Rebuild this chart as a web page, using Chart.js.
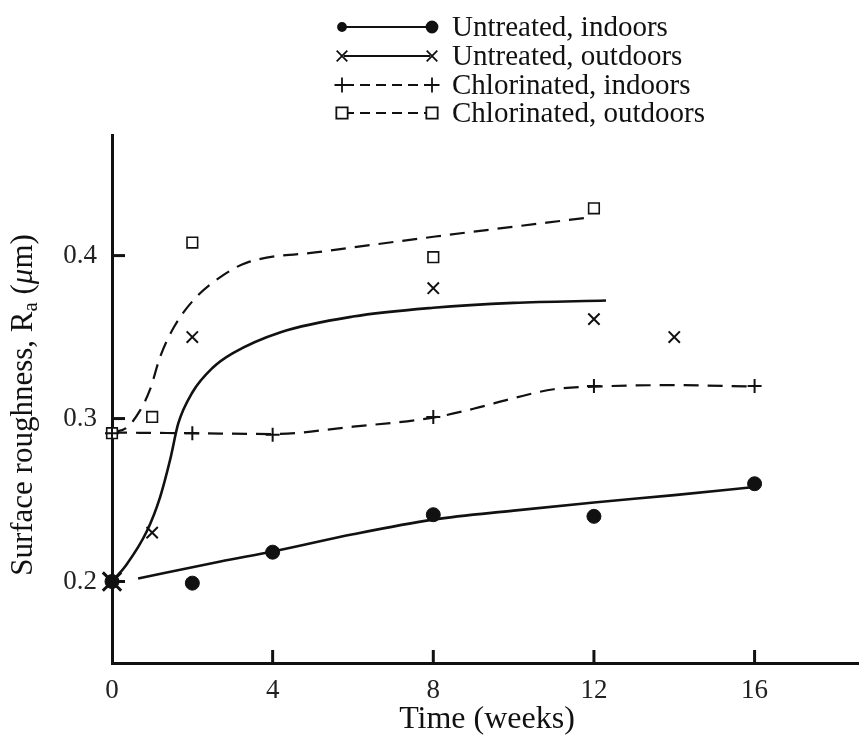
<!DOCTYPE html>
<html lang="en">
<head>
    <meta charset="UTF-8">
    <title>Surface roughness vs time</title>
    <script src="https://cdn.jsdelivr.net/npm/chart.js@4"></script>
    <style>
        html, body { margin: 0; padding: 0; background: #fff; }
    </style>
</head>
<body>
    <canvas id="myChart" width="859" height="743"></canvas>

    <script>
        // measured points
        var uiWeeks = [0, 2, 4, 8, 12, 16];
        var uiValues = [0.200, 0.199, 0.218, 0.241, 0.240, 0.260];

        var uoWeeks = [0, 1, 2, 8, 12, 14];
        var uoValues = [0.200, 0.230, 0.350, 0.380, 0.361, 0.350];

        var ciWeeks = [0, 2, 4, 8, 12, 16];
        var ciValues = [0.291, 0.291, 0.290, 0.301, 0.320, 0.320];

        var coWeeks = [0, 1, 2, 8, 12];
        var coValues = [0.291, 0.301, 0.408, 0.399, 0.429];

        // hand drawn curves
        var uiFitWeeks = [0.65, 2.7, 4, 6, 8, 10, 12, 14, 16];
        var uiFitValues = [0.2018, 0.2123, 0.2184, 0.229, 0.238, 0.2435, 0.2485, 0.253, 0.258];

        var uoFitWeeks = [0, 0.35, 0.87, 1.2, 1.45, 1.65, 2.0, 2.5, 3, 4.2, 6, 8, 10, 12.3];
        var uoFitValues = [0.2, 0.21, 0.231, 0.252, 0.275, 0.297, 0.316, 0.331, 0.340, 0.353, 0.3626, 0.368, 0.371, 0.3724];

        var ciFitWeeks = [0, 2, 4, 6, 8, 9, 10, 11, 12, 14, 16];
        var ciFitValues = [0.2914, 0.291, 0.2905, 0.295, 0.3006, 0.306, 0.3125, 0.318, 0.3196, 0.3205, 0.3196];

        var coFitWeeks = [0, 0.37, 0.7, 0.95, 1.2, 1.54, 2.04, 2.77, 3.36, 5.26, 8.05, 11.84];
        var coFitValues = [0.2914, 0.2945, 0.305, 0.318, 0.338, 0.356, 0.373, 0.388, 0.3957, 0.4025, 0.4117, 0.4233];

        var xTicks = [0, 4, 8, 12, 16];
        var yTicks = [0.2, 0.3, 0.4];
        var seriesNames = ['Untreated, indoors', 'Untreated, outdoors', 'Chlorinated, indoors', 'Chlorinated, outdoors'];

        var ink = '#111';
        var serif = "'Liberation Serif', 'Times New Roman', serif";

        function pts(xs, ys) {
            return xs.map(function (x, i) { return { x: x, y: ys[i] }; });
        }

        function fitLine(xs, ys, dash, width) {
            return {
                data: pts(xs, ys),
                showLine: true,
                borderColor: ink,
                borderWidth: width,
                borderDash: dash,
                pointRadius: 0,
                cubicInterpolationMode: 'monotone',
                fill: false,
                order: 5,
                clip: false
            };
        }

        var markerSets = [
            { data: pts(uiWeeks, uiValues), pointStyle: 'circle', pointRadius: 7, backgroundColor: ink, borderColor: ink, borderWidth: 1, legendRadius: [4, 5.5], order: 0 },
            { data: pts(uoWeeks, uoValues), pointStyle: 'crossRot', pointRadius: [13, 8, 8, 8, 8, 8], borderColor: ink, borderWidth: [3, 2, 2, 2, 2, 2], legendRadius: [7.5, 7.5], order: 1 },
            { data: pts(ciWeeks, ciValues), pointStyle: 'cross', pointRadius: 7, borderColor: ink, borderWidth: 2, legendRadius: [7.5, 7.5], order: 2 },
            { data: pts(coWeeks, coValues), pointStyle: 'rect', pointRadius: 7.5, backgroundColor: '#fff', borderColor: ink, borderWidth: 1.6, legendRadius: [8, 8], order: 3 }
        ];
        markerSets.forEach(function (d, i) {
            d.label = seriesNames[i];
            d.showLine = false;
            d.clip = false;
        });

        var legendDash = [[], [], [10, 6], [10, 6]];

        var figureText = {
            id: 'figureText',
            afterDraw: function (chart) {
                var c = chart.ctx;
                var xs = chart.scales.x, ys = chart.scales.y;
                var area = chart.chartArea;
                c.save();
                c.strokeStyle = ink;
                c.lineWidth = 3;
                // inward tick marks
                xTicks.forEach(function (v) {
                    if (v === 0) return;
                    var px = xs.getPixelForValue(v);
                    c.beginPath();
                    c.moveTo(px, area.bottom);
                    c.lineTo(px, area.bottom - 13);
                    c.stroke();
                });
                yTicks.forEach(function (v) {
                    var py = ys.getPixelForValue(v);
                    c.beginPath();
                    c.moveTo(area.left, py);
                    c.lineTo(area.left + 13, py);
                    c.stroke();
                });

                // legend
                var rowsY = [27, 56, 85, 113];
                c.font = '29px ' + serif;
                c.textBaseline = 'middle';
                c.textAlign = 'left';
                markerSets.forEach(function (d, i) {
                    var y = rowsY[i];
                    c.save();
                    c.strokeStyle = ink;
                    c.lineWidth = 2;
                    c.setLineDash(legendDash[i]);
                    c.beginPath();
                    c.moveTo(344, y);
                    c.lineTo(430, y);
                    c.stroke();
                    c.restore();
                    var opts = { pointStyle: d.pointStyle, rotation: 0, borderWidth: 1.8 };
                    c.fillStyle = d.backgroundColor || ink;
                    c.strokeStyle = ink;
                    c.lineWidth = 1.8;
                    opts.radius = d.legendRadius[0];
                    Chart.helpers.drawPoint(c, opts, 342, y);
                    opts.radius = d.legendRadius[1];
                    Chart.helpers.drawPoint(c, opts, 432, y);
                    c.fillStyle = ink;
                    c.fillText(d.label, 452, y + 1);
                });

                // axis titles
                c.fillStyle = ink;
                c.font = '32px ' + serif;
                c.textAlign = 'center';
                c.fillText('Time (weeks)', 487, 720);

                var parts = [
                    { t: 'Surface roughness, R', f: '31px ' + serif, dy: 0 },
                    { t: 'a', f: '21px ' + serif, dy: 7 },
                    { t: ' (', f: '31px ' + serif, dy: 0 },
                    { t: '\u03bc', f: 'italic 31px ' + serif, dy: 0 },
                    { t: 'm)', f: '31px ' + serif, dy: 0 }
                ];
                var total = 0;
                parts.forEach(function (p) { c.font = p.f; p.w = c.measureText(p.t).width; total += p.w; });
                c.translate(24, 405);
                c.rotate(-Math.PI / 2);
                c.textAlign = 'left';
                var x = -total / 2;
                parts.forEach(function (p) {
                    c.font = p.f;
                    c.fillText(p.t, x, p.dy);
                    x += p.w;
                });
                c.restore();
            }
        };

        var ctx = document.getElementById('myChart').getContext('2d');
        var myChart = new Chart(ctx, {
            type: 'scatter',
            data: {
                datasets: markerSets.concat([
                    fitLine(uiFitWeeks, uiFitValues, [], 2.6),
                    fitLine(uoFitWeeks, uoFitValues, [], 2.6),
                    fitLine(ciFitWeeks, ciFitValues, [15, 9], 2.2),
                    fitLine(coFitWeeks, coFitValues, [15, 9], 2.2)
                ])
            },
            options: {
                responsive: false,
                animation: false,
                layout: { autoPadding: false, padding: { top: 135, right: 0, left: 0, bottom: 0 } },
                plugins: {
                    legend: { display: false },
                    tooltip: { enabled: false }
                },
                scales: {
                    x: {
                        type: 'linear',
                        min: 0,
                        max: 18.6,
                        grid: { display: false, drawTicks: false },
                        border: { display: true, color: ink, width: 3 },
                        ticks: {
                            color: '#222',
                            padding: 12,
                            font: { family: serif, size: 27 },
                            callback: function (v) { return String(v); }
                        },
                        afterBuildTicks: function (s) { s.ticks = xTicks.map(function (v) { return { value: v }; }); },
                        // the axis runs to the page edge, no room kept for labels
                        afterFit: function (s) { s.height = 80; s.paddingRight = 0; s.paddingLeft = 0; }
                    },
                    y: {
                        type: 'linear',
                        min: 0.15,
                        max: 0.474,
                        grid: { display: false, drawTicks: false },
                        border: { display: true, color: ink, width: 3 },
                        ticks: {
                            color: '#222',
                            padding: 15,
                            font: { family: serif, size: 27 },
                            callback: function (v) { return v.toFixed(1); }
                        },
                        afterBuildTicks: function (s) { s.ticks = yTicks.map(function (v) { return { value: v }; }); },
                        afterFit: function (s) { s.width = 112; s.paddingTop = 0; s.paddingBottom = 0; }
                    }
                }
            },
            plugins: [figureText]
        });
    </script>
</body>
</html>
